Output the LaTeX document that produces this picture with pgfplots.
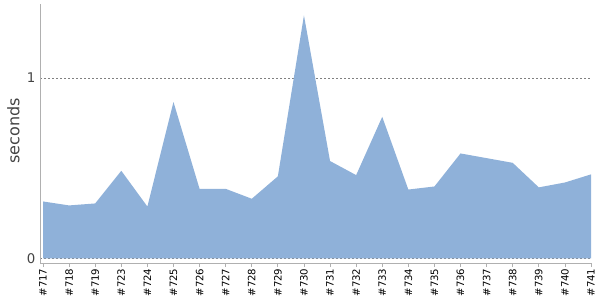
\documentclass[border=0pt]{standalone}
\usepackage{fontspec}
\setmainfont{DejaVu Sans}
\usepackage{pgfplots}
\pgfplotsset{compat=1.18}
\definecolor{areablue}{HTML}{8FB1D9}
\definecolor{axgray}{HTML}{B0B0B0}
\definecolor{lblgray}{HTML}{444444}
\begin{document}
\begin{tikzpicture}[x=1pt,y=1pt]
\useasboundingbox (-30,-27.75) rectangle (420,197.25);
\begin{axis}[
  at={(0,0)}, anchor=south west,
  scale only axis,
  width=413.25pt, height=194.25pt,
  xmin=-0.115, xmax=21,
  ymin=-0.025, ymax=1.41,
  axis x line*=bottom,
  axis y line*=left,
  axis line style={axgray, line width=0.6pt, -},
  xtick={0,...,21},
  xticklabels={\#717,\#718,\#719,\#723,\#724,\#725,\#726,\#727,\#728,\#729,\#730,\#731,\#732,\#733,\#734,\#735,\#736,\#737,\#738,\#739,\#740,\#741},
  x tick label style={rotate=90, anchor=east, font=\fontsize{7.6}{8}\selectfont, text=black, inner sep=1pt},
  xtick style={axgray, line width=0.6pt},
  major tick length=3pt,
  xtick pos=bottom,
  xtick align=outside,
  ytick={0,1},
  yticklabels={0,1},
  ytick style={draw=none},
  y tick label style={font=\fontsize{10}{11}\selectfont, text=lblgray},
  ymajorgrids,
  major grid style={dash pattern=on 1.5pt off 1.5pt, gray, line width=0.5pt},
  ylabel={seconds},
  every axis y label/.style={at={(axis description cs:0,0.51)}, rotate=90, anchor=center, yshift=20pt, font=\fontsize{12}{13}\selectfont, text=lblgray},
  clip=false,
]
\addplot[fill=areablue, draw=none, area legend] coordinates {
(0,0.316) (1,0.294) (2,0.305) (3,0.486) (4,0.288) (5,0.867) (6,0.386) (7,0.386)
(8,0.331) (9,0.455) (10,1.347) (11,0.540) (12,0.462) (13,0.785) (14,0.382) (15,0.399)
(16,0.582) (17,0.556) (18,0.530) (19,0.394) (20,0.421) (21,0.466)
} \closedcycle;
\end{axis}
\end{tikzpicture}
\end{document}
